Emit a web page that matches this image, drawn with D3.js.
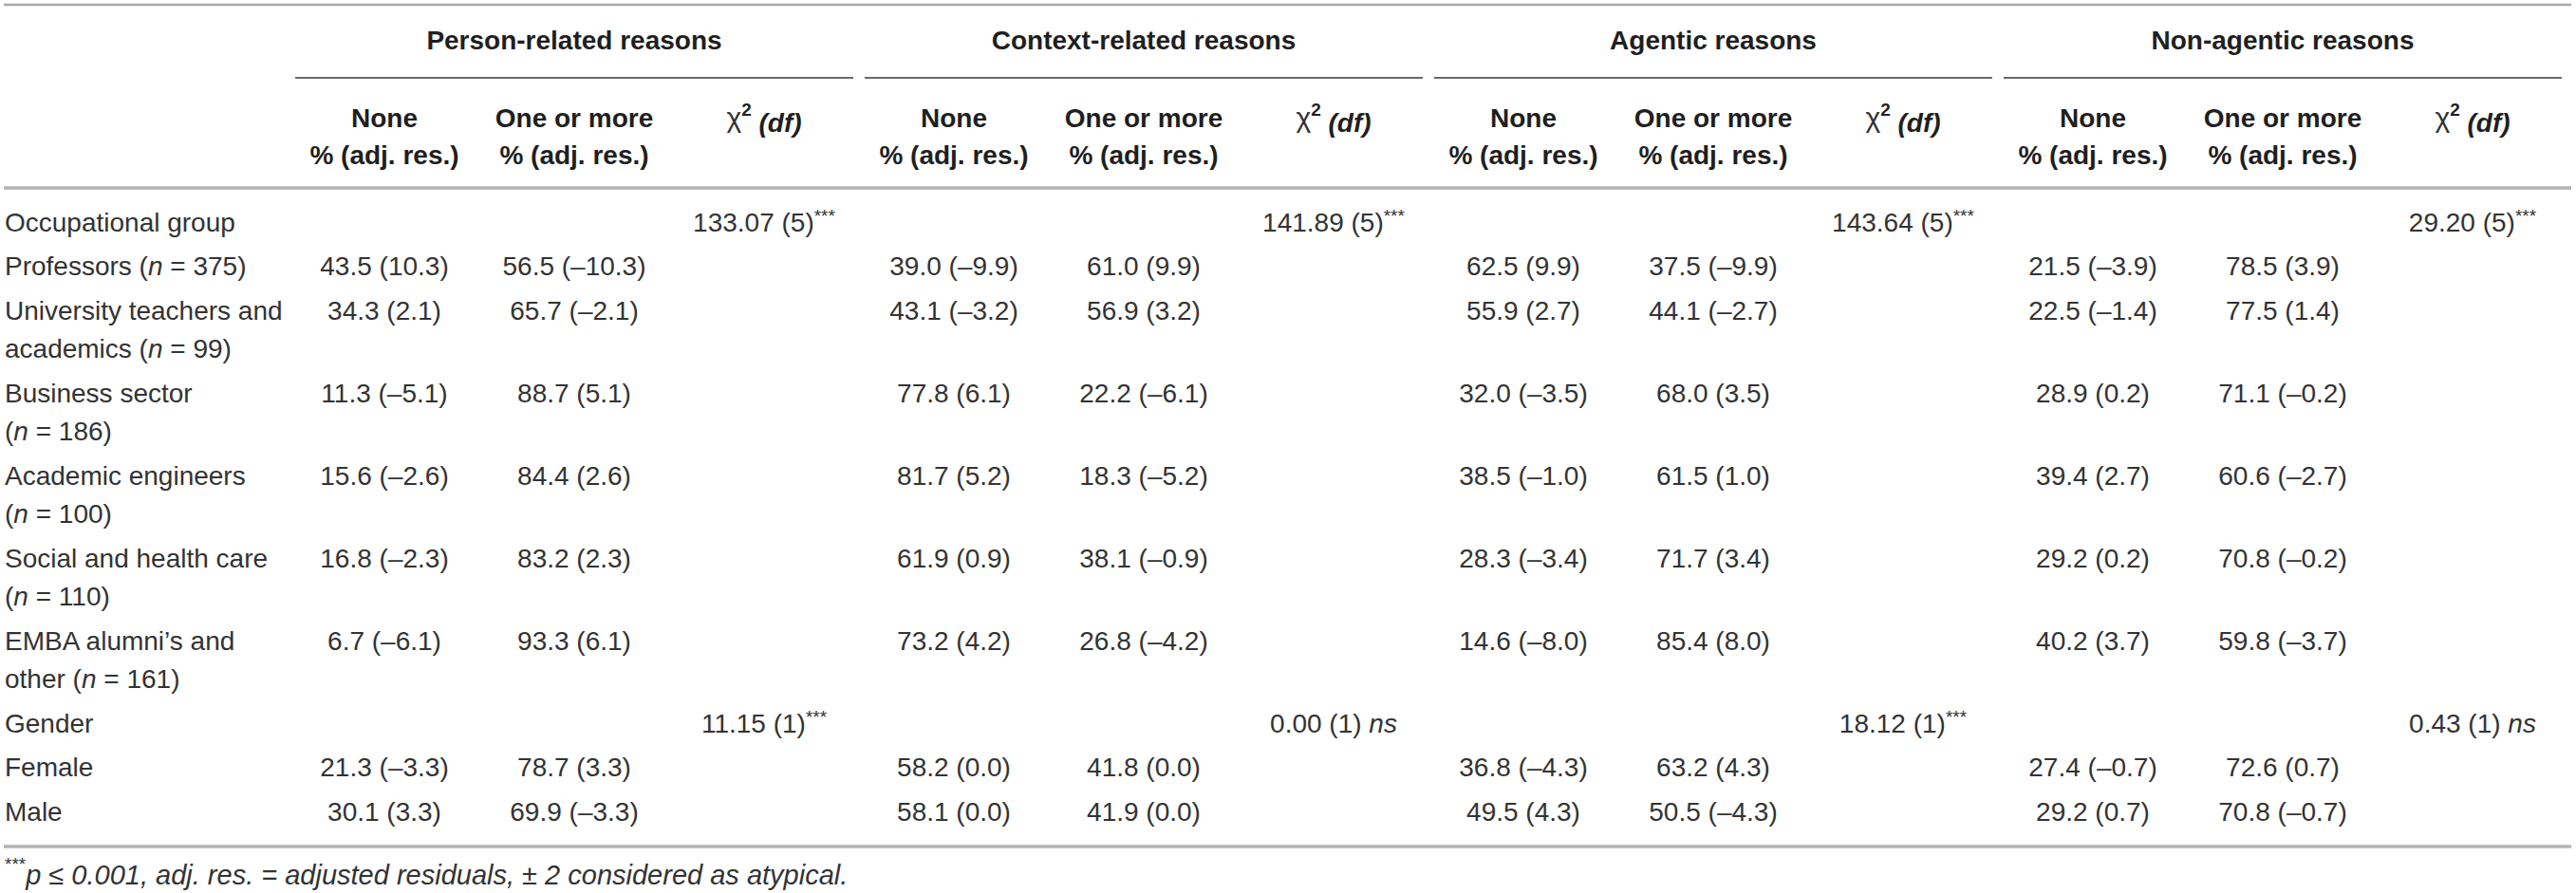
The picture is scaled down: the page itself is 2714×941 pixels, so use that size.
<!DOCTYPE html>
<html lang="en">
<head>
    <meta charset="UTF-8">
    <title>Reasons by occupational group and gender</title>
    <style>
      body {
          margin: 0;
          padding: 0;
          background-color: #ffffff;
      }
      svg text {
          font-family: 'Liberation Sans', Arial, Helvetica, sans-serif;
          font-size: 28px;
          fill: #333333;
      }
      .bold { font-weight: bold; fill: #1f1f1f; }
    </style>
</head>
<body>
  <div id="table"></div>
  <script src="https://d3js.org/d3.v7.min.js"></script>
  <script>
    // ---- data ----
    const groups = ["Person-related reasons", "Context-related reasons", "Agentic reasons", "Non-agentic reasons"];
    const subHeads = ["None", "One or more"];
    const subHead2 = "% (adj. res.)";

    // each row label may wrap to two lines, as in the source table
    const rowLabels = [
        ["Occupational group"],
        ["Professors (n = 375)"],
        ["University teachers and", "academics (n = 99)"],
        ["Business sector", "(n = 186)"],
        ["Academic engineers", "(n = 100)"],
        ["Social and health care", "(n = 110)"],
        ["EMBA alumni\u2019s and", "other (n = 161)"],
        ["Gender"],
        ["Female"],
        ["Male"]
    ];

    // [none, one or more] per row, null on the test rows
    const personVals = [null,
        ["43.5 (10.3)", "56.5 (\u201310.3)"], ["34.3 (2.1)", "65.7 (\u20132.1)"], ["11.3 (\u20135.1)", "88.7 (5.1)"],
        ["15.6 (\u20132.6)", "84.4 (2.6)"], ["16.8 (\u20132.3)", "83.2 (2.3)"], ["6.7 (\u20136.1)", "93.3 (6.1)"],
        null, ["21.3 (\u20133.3)", "78.7 (3.3)"], ["30.1 (3.3)", "69.9 (\u20133.3)"]];
    const contextVals = [null,
        ["39.0 (\u20139.9)", "61.0 (9.9)"], ["43.1 (\u20133.2)", "56.9 (3.2)"], ["77.8 (6.1)", "22.2 (\u20136.1)"],
        ["81.7 (5.2)", "18.3 (\u20135.2)"], ["61.9 (0.9)", "38.1 (\u20130.9)"], ["73.2 (4.2)", "26.8 (\u20134.2)"],
        null, ["58.2 (0.0)", "41.8 (0.0)"], ["58.1 (0.0)", "41.9 (0.0)"]];
    const agenticVals = [null,
        ["62.5 (9.9)", "37.5 (\u20139.9)"], ["55.9 (2.7)", "44.1 (\u20132.7)"], ["32.0 (\u20133.5)", "68.0 (3.5)"],
        ["38.5 (\u20131.0)", "61.5 (1.0)"], ["28.3 (\u20133.4)", "71.7 (3.4)"], ["14.6 (\u20138.0)", "85.4 (8.0)"],
        null, ["36.8 (\u20134.3)", "63.2 (4.3)"], ["49.5 (4.3)", "50.5 (\u20134.3)"]];
    const nonAgenticVals = [null,
        ["21.5 (\u20133.9)", "78.5 (3.9)"], ["22.5 (\u20131.4)", "77.5 (1.4)"], ["28.9 (0.2)", "71.1 (\u20130.2)"],
        ["39.4 (2.7)", "60.6 (\u20132.7)"], ["29.2 (0.2)", "70.8 (\u20130.2)"], ["40.2 (3.7)", "59.8 (\u20133.7)"],
        null, ["27.4 (\u20130.7)", "72.6 (0.7)"], ["29.2 (0.7)", "70.8 (\u20130.7)"]];

    // chi-square (df) with significance, on the occupational group and gender rows
    const chiOccupation = ["133.07 (5)***", "141.89 (5)***", "143.64 (5)***", "29.20 (5)***"];
    const chiGender = ["11.15 (1)***", "0.00 (1) ns", "18.12 (1)***", "0.43 (1) ns"];

    const footnote = "p \u2264 0.001, adj. res. = adjusted residuals, \u00b1 2 considered as atypical.";

    // ---- layout ----
    const width = 2714, height = 941;
    const tableLeft = 4, tableRight = 2709;
    const firstRowY = 234, rowStep = 46.5, lineStep = 40.5;

    const svg = d3.select("#table").append("svg")
        .attr("width", width)
        .attr("height", height);

    const groupData = [personVals, contextVals, agenticVals, nonAgenticVals];

    // 12 value columns, 3 per group
    const x = d3.scaleBand()
        .domain(d3.range(12))
        .range([305, 2705]);
    const colCenter = i => x(i) + x.bandwidth() / 2;

    // row positions from the number of text lines each row needs
    let acc = firstRowY;
    const rowY = rowLabels.map((lines, i) => {
        const y = acc;
        acc += rowStep + lineStep * (lines.length - 1);
        return y;
    });

    function hline(y, x1, x2, color, w) {
        svg.append("line")
            .attr("x1", x1).attr("x2", x2)
            .attr("y1", y).attr("y2", y)
            .attr("stroke", color)
            .attr("stroke-width", w);
    }

    // rules
    hline(5, tableLeft, tableRight, "#a9a9a9", 2.5);
    hline(198, tableLeft, tableRight, "#b3b3b3", 3.5);
    hline(892, tableLeft, tableRight, "#b3b3b3", 3.5);

    // group titles and their underlines
    groups.forEach((g, gi) => {
        const x1 = x(gi * 3), x2 = x(gi * 3 + 2) + x.bandwidth();
        svg.append("text")
            .attr("class", "bold")
            .attr("x", (x1 + x2) / 2)
            .attr("y", 42)
            .attr("dy", "0.35em")
            .attr("text-anchor", "middle")
            .attr("font-size", 29)
            .text(g);
        hline(82, x1 + 6, x2 - 6, "#6a6a6a", 2);

        subHeads.forEach((s, si) => {
            const cx = colCenter(gi * 3 + si);
            svg.append("text").attr("class", "bold")
                .attr("x", cx).attr("y", 124).attr("dy", "0.35em")
                .attr("text-anchor", "middle").text(s);
            svg.append("text").attr("class", "bold")
                .attr("x", cx).attr("y", 163).attr("dy", "0.35em")
                .attr("text-anchor", "middle").text(subHead2);
        });

        const chi = svg.append("text")
            .attr("x", colCenter(gi * 3 + 2)).attr("y", 124).attr("dy", "0.35em")
            .attr("text-anchor", "middle");
        chi.append("tspan").attr("font-size", 30).text("\u03c7");
        chi.append("tspan").attr("class", "bold").attr("font-size", 19).attr("dy", "-0.6em").text("2");
        chi.append("tspan").attr("class", "bold").attr("font-style", "italic").attr("dy", "0.6em").text(" (df)");
    });

    // row labels, with the "n" set in italics
    rowLabels.forEach((lines, ri) => {
        lines.forEach((line, li) => {
            const t = svg.append("text")
                .attr("x", 5)
                .attr("y", rowY[ri] + li * lineStep)
                .attr("dy", "0.35em");
            const parts = line.split(/(\bn\b)/);
            parts.forEach(p => {
                const sp = t.append("tspan").text(p);
                if (p === "n") sp.attr("font-style", "italic");
            });
        });
    });

    // percentage cells
    groupData.forEach((vals, gi) => {
        vals.forEach((pair, ri) => {
            if (!pair) return;
            pair.forEach((v, si) => {
                svg.append("text")
                    .attr("x", colCenter(gi * 3 + si))
                    .attr("y", rowY[ri])
                    .attr("dy", "0.35em")
                    .attr("text-anchor", "middle")
                    .text(v);
            });
        });
    });

    // chi-square cells: stars as superscript, "ns" in italics
    function chiCell(str, cx, cy) {
        const t = svg.append("text")
            .attr("x", cx).attr("y", cy).attr("dy", "0.35em")
            .attr("text-anchor", "middle");
        const m = str.match(/^(.*?\))(\*+| ns)$/);
        t.append("tspan").text(m[1]);
        if (m[2].trim() === "ns") {
            t.append("tspan").attr("font-style", "italic").text(" ns");
        } else {
            t.append("tspan").attr("font-size", 19).attr("dy", "-0.5em").text(m[2]);
        }
    }
    chiOccupation.forEach((c, gi) => chiCell(c, colCenter(gi * 3 + 2), rowY[0]));
    chiGender.forEach((c, gi) => chiCell(c, colCenter(gi * 3 + 2), rowY[7]));

    // footnote
    const fn = svg.append("text")
        .attr("x", 5).attr("y", 920).attr("dy", "0.35em");
    fn.append("tspan").attr("font-size", 19).attr("dy", "-0.15em").text("***");
    fn.append("tspan").attr("font-style", "italic").attr("font-size", 29).attr("dy", "0.5em").text(footnote);
  </script>
</body>
</html>
